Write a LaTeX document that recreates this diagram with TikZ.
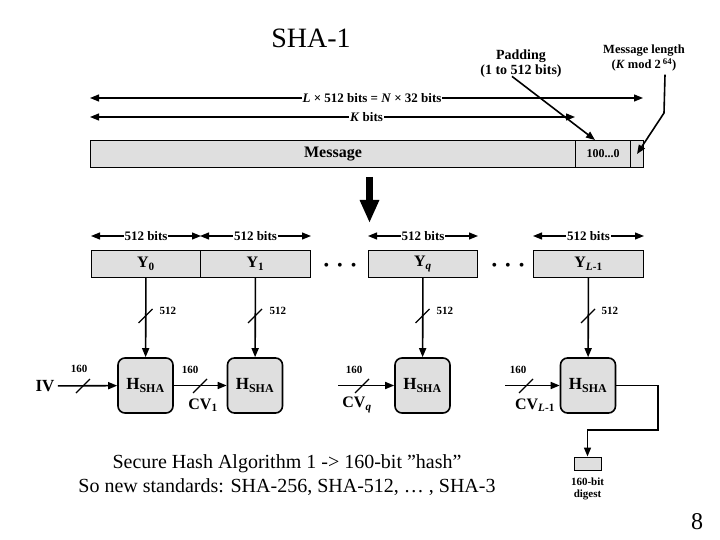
\documentclass[tikz,border=0pt]{standalone}
\usepackage{fontspec}
\setmainfont{Liberation Serif}
\usetikzlibrary{arrows.meta, positioning, calc}

\begin{document}
\begin{tikzpicture}[x=1pt, y=-1pt,
    >={Triangle[length=9pt, width=7pt]},
    seg/.style={rectangle, draw, fill=gray!25, line width=1pt, minimum height=27pt, inner sep=0pt, anchor=north west, font=\fontsize{16}{18}\selectfont\bfseries},
    hbox/.style={rectangle, rounded corners=7pt, draw, fill=gray!25, line width=1.6pt, minimum width=55pt, minimum height=55pt, font=\fontsize{17}{18}\selectfont\bfseries},
    dim/.style={fill=white, inner sep=1pt, font=\fontsize{13}{14}\selectfont\bfseries},
    lbl/.style={font=\fontsize{12.5}{15}\selectfont\bfseries, align=center},
    bus/.style={font=\fontsize{11}{12}\selectfont\bfseries},
    cv/.style={font=\fontsize{16}{17}\selectfont\bfseries},
    flow/.style={->, line width=1.6pt},
    dimline/.style={<->, line width=1.2pt}
    ]
    \useasboundingbox (0,0) rectangle (720,540);

    % Title
    \node[font=\fontsize{28}{30}\selectfont] (title) at (311,38) {SHA-1};

    % Message
    \node[seg, minimum width=485pt] (msg) at (90,140) {Message};
    \node[seg, minimum width=55pt, font=\fontsize{12}{13}\selectfont\bfseries] (pad) at (575,140) {100...0};
    \node[seg, minimum width=13pt] (len) at (630,140) {};

    % Lengths
    \coordinate (la) at (90,98);
    \coordinate (lb) at (643,98);
    \draw[dimline] (la) -- node[dim, pos=0.51] (ltot) {\textit{L} × 512 bits = \textit{N} × 32 bits} (lb);
    \coordinate (ka) at (90,117);
    \coordinate (kb) at (575,117);
    \draw[dimline] (ka) -- node[dim, pos=0.57] (kbits) {\textit{K} bits} (kb);

    % Padding and length field
    \node[lbl, font=\fontsize{14}{15}\selectfont\bfseries] (padlbl) at (521,64) {Padding\\(1 to 512 bits)};
    \draw[flow] ([xshift=-9pt, yshift=5pt]padlbl.south) -- ([xshift=-8pt]pad.north);
    \node[lbl] (lenlbl) at (644,58) {Message length\\(\textit{K} mod 2\,\textsuperscript{64})};
    \coordinate (lenbend) at (664,113);
    \draw[flow] ([xshift=21pt]lenlbl.south) -- (lenbend) -- (len.center);

    % Split
    \coordinate (bigtop) at (369.5,177);
    \coordinate (bigbot) at (369.5,223);
    \draw[line width=7pt, -{Triangle[length=23pt, width=18pt]}] (bigtop) -- (bigbot);

    % Blocks
    \node[seg, minimum width=109pt] (y0) at (91,250) {Y\textsubscript{0}};
    \node[seg, minimum width=110pt] (y1) at (200,250) {Y\textsubscript{1}};
    \node[seg, minimum width=109pt] (yq) at (368,250) {Y\textsubscript{\textit{q}}};
    \node[seg, minimum width=110pt] (yl) at (533,250) {Y\textsubscript{\textit{L}-1}};
    \node[font=\fontsize{16}{16}\selectfont] (dots1) at (340,267) {•\hspace{8pt}•\hspace{8pt}•};
    \node[font=\fontsize{16}{16}\selectfont] (dots2) at (508,267) {•\hspace{8pt}•\hspace{8pt}•};

    \draw[dimline] ([yshift=14pt]y0.north west) -- node[dim] (d0) {512 bits} ([yshift=14pt]y0.north east);
    \draw[dimline] ([yshift=14pt]y1.north west) -- node[dim] (d1) {512 bits} ([yshift=14pt]y1.north east);
    \draw[dimline] ([yshift=14pt]yq.north west) -- node[dim] (dq) {512 bits} ([yshift=14pt]yq.north east);
    \draw[dimline] ([yshift=14pt]yl.north west) -- node[dim] (dl) {512 bits} ([yshift=14pt]yl.north east);

    % Compression stages
    \node[hbox] (h1) at (145.5,385.5) {H\textsubscript{SHA}};
    \node[hbox] (h2) at (255,385.5) {H\textsubscript{SHA}};
    \node[hbox] (hq) at (422.5,385.5) {H\textsubscript{SHA}};
    \node[hbox] (hl) at (588,385.5) {H\textsubscript{SHA}};

    \draw[flow] (y0) -- (h1);
    \draw[flow] (y1) -- (h2);
    \draw[flow] (yq) -- (hq);
    \draw[flow] (yl) -- (hl);
    \draw[line width=1.2pt] (138.5,323) -- (152.5,309);
    \draw[line width=1.2pt] (248,323) -- (262,309);
    \draw[line width=1.2pt] (415.5,323) -- (429.5,309);
    \draw[line width=1.2pt] (581,323) -- (595,309);
    \node[bus, anchor=west] (b0) at (156,311) {512};
    \node[bus, anchor=west] (b1) at (266,311) {512};
    \node[bus, anchor=west] (bq) at (433,311) {512};
    \node[bus, anchor=west] (bl) at (598,311) {512};

    % Chaining values
    \node[font=\fontsize{17}{18}\selectfont\bfseries] (iv) at (45,386) {IV};
    \draw[flow] (iv) -- (h1);
    \draw[flow] (h1) -- (h2);
    \coordinate (cvq) at (338,385.5);
    \draw[flow] (cvq) -- (hq);
    \coordinate (cvl) at (505,385.5);
    \draw[flow] (cvl) -- (hl);
    \draw[line width=1.2pt] (76,393) -- (90,379);
    \draw[line width=1.2pt] (193,393) -- (207,379);
    \draw[line width=1.2pt] (355,393) -- (369,379);
    \draw[line width=1.2pt] (519,393) -- (533,379);
    \node[bus] (c0) at (79,369) {160};
    \node[bus] (c1) at (190,370) {160};
    \node[bus] (cq) at (354,370) {160};
    \node[bus] (cl) at (518,370) {160};
    \node[cv] (cv1) at (203,405) {CV\textsubscript{1}};
    \node[cv] (cvqlbl) at (357,405) {CV\textsubscript{\textit{q}}};
    \node[cv] (cvllbl) at (535,405) {CV\textsubscript{\textit{L}-1}};

    % Output
    \node[rectangle, draw, fill=gray!25, line width=1pt, minimum width=27pt, minimum height=13pt, inner sep=0pt] (dig) at (587.5,463.5) {};
    \node[bus, align=center, below=4pt of dig] (diglbl) {160-bit\\digest};
    \coordinate (turn) at (658,430);
    \draw[flow] (hl.east) -| (turn) -| (dig.north);

    % Notes
    \node[font=\fontsize{20}{24}\selectfont, align=center] (note) at (287,475) {Secure Hash Algorithm 1 -> 160-bit \symbol{"22}hash”\\So new standards: SHA-256, SHA-512, … , SHA-3};
    \node[font=\fontsize{24}{26}\selectfont] (pnum) at (697,522) {8};
\end{tikzpicture}
\end{document}
